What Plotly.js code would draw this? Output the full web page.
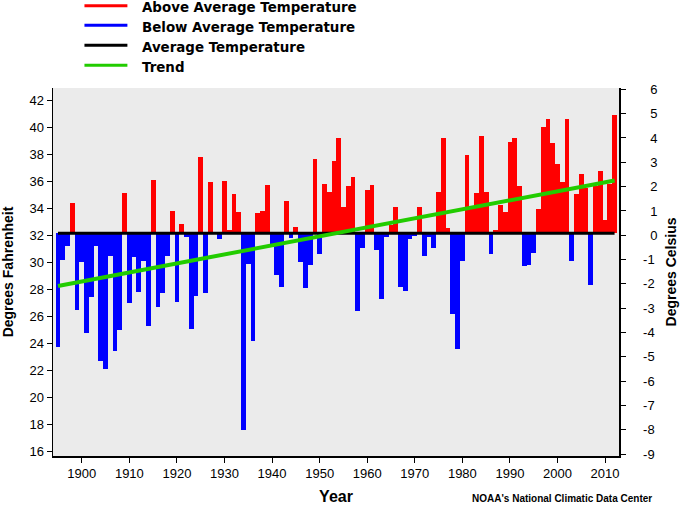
<!DOCTYPE html>
<html>
<head>
<meta charset="utf-8">
<script src="https://cdn.plot.ly/plotly-3.0.1.min.js"></script>
<style>
  html, body { margin: 0; padding: 0; background: #ffffff; }
  #chart { width: 680px; height: 505px; }
</style>
</head>
<body>
<div id="chart"></div>
<script>
// ---- Data ----
const years = [
  1895, 1896, 1897, 1898, 1899, 1900, 1901, 1902, 1903, 1904,
  1905, 1906, 1907, 1908, 1909, 1910, 1911, 1912, 1913, 1914,
  1915, 1916, 1917, 1918, 1919, 1920, 1921, 1922, 1923, 1924,
  1925, 1926, 1927, 1928, 1929, 1930, 1931, 1932, 1933, 1934,
  1935, 1936, 1937, 1938, 1939, 1940, 1941, 1942, 1943, 1944,
  1945, 1946, 1947, 1948, 1949, 1950, 1951, 1952, 1953, 1954,
  1955, 1956, 1957, 1958, 1959, 1960, 1961, 1962, 1963, 1964,
  1965, 1966, 1967, 1968, 1969, 1970, 1971, 1972, 1973, 1974,
  1975, 1976, 1977, 1978, 1979, 1980, 1981, 1982, 1983, 1984,
  1985, 1986, 1987, 1988, 1989, 1990, 1991, 1992, 1993, 1994,
  1995, 1996, 1997, 1998, 1999, 2000, 2001, 2002, 2003, 2004,
  2005, 2006, 2007, 2008, 2009, 2010, 2011, 2012
];

const tempsF = [
  23.74, 30.17, 31.23, 34.40, 26.48, 30.02, 24.78, 27.45, 31.23, 22.70,
  22.11, 30.49, 23.44, 25.00, 35.14, 27.00, 30.42, 27.77, 30.09, 25.30,
  36.10, 26.71, 27.75, 30.49, 33.80, 27.08, 32.84, 31.90, 25.05, 27.50,
  37.81, 27.75, 35.96, 32.15, 31.75, 36.03, 32.40, 35.07, 33.73, 17.58,
  29.88, 24.19, 33.66, 33.80, 35.73, 31.16, 29.08, 28.19, 34.55, 31.83,
  32.62, 30.05, 28.12, 29.82, 37.66, 30.64, 35.81, 35.21, 37.51, 39.22,
  34.10, 35.66, 36.33, 26.41, 31.08, 35.36, 35.73, 30.93, 27.30, 31.90,
  32.77, 34.10, 28.19, 27.89, 31.75, 31.97, 34.10, 30.49, 31.90, 31.08,
  35.21, 39.22, 32.54, 26.19, 23.59, 30.12, 37.96, 34.10, 35.14, 39.37,
  35.21, 30.64, 32.39, 34.25, 33.73, 38.92, 39.22, 35.66, 29.75, 29.82,
  30.71, 33.95, 40.04, 40.63, 38.85, 37.29, 35.96, 40.63, 30.12, 35.07,
  36.55, 35.51, 28.34, 35.61, 36.77, 33.14, 35.78, 40.93
];

const averageF = 32.15;
const averageYears = [1895, 2012];
const trendYears = [1895, 2012];
const trendF = [28.25, 36.05];

const xTickYears = [1900, 1910, 1920, 1930, 1940, 1950, 1960, 1970, 1980, 1990, 2000, 2010];
const fTicks = [16, 18, 20, 22, 24, 26, 28, 30, 32, 34, 36, 38, 40, 42];
const cTicks = [-9, -8, -7, -6, -5, -4, -3, -2, -1, 0, 1, 2, 3, 4, 5, 6];

const legendNames = ['Above Average Temperature', 'Below Average Temperature', 'Average Temperature', 'Trend'];

// ---- Styles ----
const RED = '#FF0000', BLUE = '#0000FF', BLACK = '#000000', GREEN = '#22CC00';
const legendColors = [RED, BLUE, BLACK, GREEN];
const FONT = 'Liberation Sans, Arial, Helvetica, sans-serif';
const LEGEND_FONT = 'DejaVu Sans, Verdana, sans-serif';

const W = 680, H = 505;
const M = { l: 52.5, r: 60.7, t: 88, b: 49 };
const plotW = W - M.l - M.r, plotH = H - M.t - M.b;
const px2x = px => (px - M.l) / plotW;
const py2y = py => (H - M.b - py) / plotH;

const fRange = [15.66, 42.90];
const cRange = fRange.map(f => (f - 32) / 1.8);

const barTrace = {
  type: 'bar',
  x: years,
  y: tempsF.map(v => v - averageF),
  base: averageF,
  width: 1,
  marker: { color: tempsF.map(v => v >= averageF ? RED : BLUE), line: { width: 0 } },
  showlegend: false,
  hoverinfo: 'skip'
};

const avgTrace = {
  type: 'scatter', mode: 'lines',
  x: averageYears, y: averageYears.map(() => averageF),
  name: legendNames[2], showlegend: false, line: { color: BLACK, width: 3 }
};

const trendTrace = {
  type: 'scatter', mode: 'lines',
  x: trendYears, y: trendF,
  name: legendNames[3], showlegend: false, line: { color: GREEN, width: 4 }
};

const c2Trace = { type: 'scatter', mode: 'lines', x: [null], y: [null], yaxis: 'y2', showlegend: false, hoverinfo: 'skip' };

const cTickText = cTicks.map(c => (c < 0 ? String(c) : '\u2007' + String(c)));

// legend drawn as shapes + annotations (positions in pixels)
const legendRowsPx = [5.7, 25.3, 45.3, 65.3];
const legendShapes = legendNames.map((n, i) => ({
  type: 'line', xref: 'paper', yref: 'paper',
  x0: px2x(84), x1: px2x(127), y0: py2y(legendRowsPx[i]), y1: py2y(legendRowsPx[i]),
  line: { color: legendColors[i], width: 3 }
}));
const legendLabels = legendNames.map((n, i) => ({
  text: n, xref: 'paper', yref: 'paper',
  x: px2x(140), y: py2y(legendRowsPx[i] + 1.8), xanchor: 'left', yanchor: 'middle',
  showarrow: false,
  font: { family: LEGEND_FONT, size: 13.4, color: BLACK, weight: 'bold' }
}));

const layout = {
  width: W, height: H,
  margin: { l: M.l, r: M.r, t: M.t, b: M.b, pad: 0 },
  paper_bgcolor: '#FFFFFF',
  plot_bgcolor: '#EBEBEB',
  font: { family: FONT, color: BLACK, size: 13 },
  showlegend: false,
  bargap: 0,
  xaxis: {
    range: [1893.95, 2012.93],
    tickvals: xTickYears,
    ticks: 'outside', ticklen: 5, tickwidth: 1, tickcolor: BLACK,
    showline: true, linecolor: BLACK, linewidth: 1.5,
    showgrid: false, zeroline: false,
    tickfont: { family: FONT, size: 13, color: BLACK },
    title: { text: 'Year', font: { family: FONT, size: 16, color: BLACK, weight: 'bold' }, standoff: 12 }
  },
  yaxis: {
    range: fRange,
    tickvals: fTicks,
    ticks: 'outside', ticklen: 5, tickwidth: 1, tickcolor: BLACK,
    showline: true, linecolor: BLACK, linewidth: 1.5,
    showgrid: false, zeroline: false,
    tickfont: { family: FONT, size: 13, color: BLACK },
    title: { text: 'Degrees Fahrenheit', font: { family: FONT, size: 14, color: BLACK, weight: 'bold' }, standoff: 12 }
  },
  yaxis2: {
    overlaying: 'y', side: 'right',
    range: cRange,
    tickvals: cTicks, ticktext: cTickText,
    ticks: 'outside', ticklen: 5, tickwidth: 1, tickcolor: BLACK,
    showline: true, linecolor: BLACK, linewidth: 1.5,
    showgrid: false, zeroline: false,
    ticklabelstandoff: 15,
    tickfont: { family: FONT, size: 13, color: BLACK },
    title: { text: 'Degrees Celsius', font: { family: FONT, size: 14, color: BLACK, weight: 'bold' }, standoff: 9 }
  },
  shapes: legendShapes,
  annotations: legendLabels.concat([{
    text: "NOAA's National Climatic Data Center",
    xref: 'paper', yref: 'paper',
    x: px2x(562), y: py2y(498), xanchor: 'center', yanchor: 'middle',
    showarrow: false,
    font: { family: FONT, size: 10, color: BLACK, weight: 'bold' }
  }])
};

Plotly.newPlot('chart', [barTrace, avgTrace, trendTrace, c2Trace], layout, { displayModeBar: false, staticPlot: true });
</script>
</body>
</html>
